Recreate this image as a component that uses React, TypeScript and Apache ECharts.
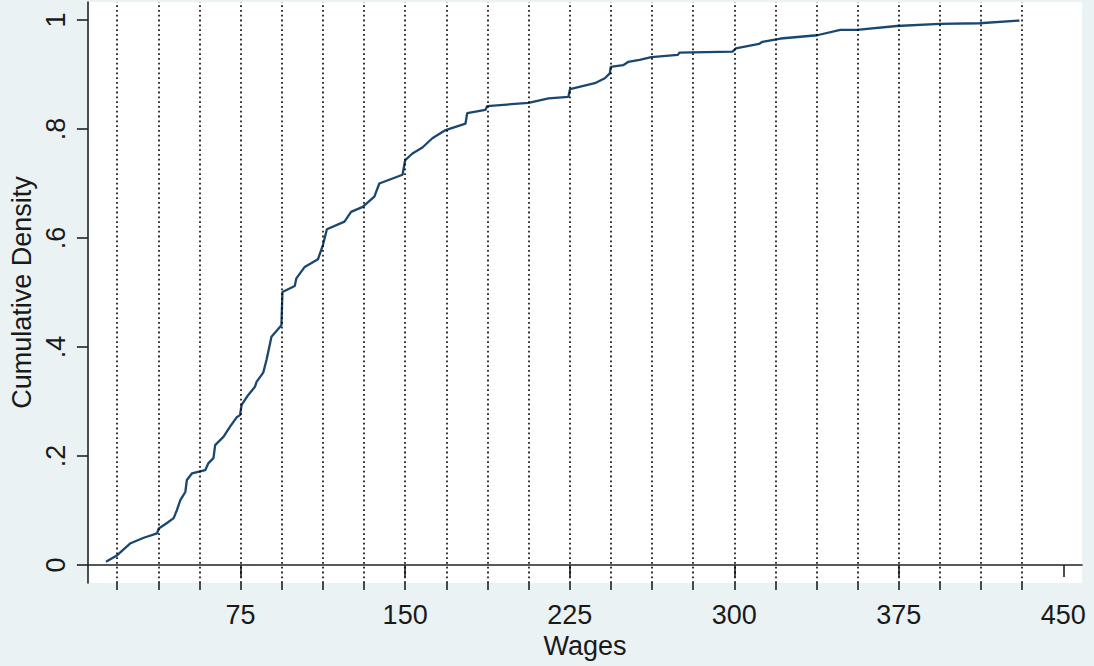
import React, { useEffect, useRef } from "react";
import * as echarts from "echarts";

const wages = [
  13.65, 18.78, 24.85, 30.88, 36.92, 37.69, 41.45, 44.49, 45.99, 47.53, 49.8, 50.52, 52.79, 58.87,
  60.36, 62.63, 63.4, 67.17, 70.2, 73.2, 74.74, 75.46, 78.5, 81.54, 82.27, 85.31, 86.8, 89.07,
  93.61, 94.06, 99.68, 100.41, 104.22, 110.25, 112.52, 114.33, 122.36, 125.35, 130.66, 135.96,
  138.23, 148.8, 150.02, 153.33, 157.87, 162.4, 168.44, 177.51, 178.28, 186.58, 187.35, 206.26,
  215.33, 224.4, 225.13, 236.46, 241.0, 243.27, 243.72, 249.34, 251.61, 256.87, 262.18, 274.29,
  275.01, 299.23, 300.73, 311.29, 312.83, 321.13, 337.78, 348.35, 355.92, 374.06, 393.7, 411.84,
  429.98,
];
const cdf = [
  0.006, 0.018, 0.04, 0.05, 0.058, 0.067, 0.077, 0.086, 0.101, 0.119, 0.134, 0.156, 0.168, 0.174,
  0.187, 0.196, 0.22, 0.235, 0.254, 0.271, 0.275, 0.294, 0.312, 0.327, 0.336, 0.353, 0.376, 0.419,
  0.44, 0.501, 0.512, 0.526, 0.547, 0.561, 0.587, 0.616, 0.63, 0.648, 0.657, 0.676, 0.7, 0.716,
  0.743, 0.755, 0.766, 0.783, 0.798, 0.81, 0.829, 0.835, 0.842, 0.848, 0.856, 0.859, 0.873, 0.884,
  0.893, 0.902, 0.914, 0.917, 0.923, 0.927, 0.932, 0.936, 0.94, 0.942, 0.948, 0.956, 0.96, 0.966,
  0.972, 0.982, 0.982, 0.989, 0.993, 0.994, 0.999,
];
const xTickValues = [75, 150, 225, 300, 375, 450];
const xMinorTicks = [
  18.75, 37.5, 56.25, 75, 93.75, 112.5, 131.25, 150, 168.75, 187.5, 206.25, 225, 243.75, 262.5,
  281.25, 300, 318.75, 337.5, 356.25, 375, 393.75, 412.5, 431.25,
];
const yTickValues = [0, 0.2, 0.4, 0.6, 0.8, 1];
const yTickLabels = ["0", ".2", ".4", ".6", ".8", "1"];

const FONT = "Liberation Sans, Arial, sans-serif";
const TEXT = "#1a1a1a";

export default function App() {
  const ref = useRef<HTMLDivElement>(null);
  useEffect(() => {
    if (!ref.current) return;
    const chart = echarts.init(ref.current, undefined, { renderer: "svg" });
    const labelFor = (v: number) => {
      const i = yTickValues.findIndex((t) => Math.abs(t - v) < 1e-6);
      return i >= 0 ? yTickLabels[i] : "";
    };
    chart.setOption({
      animation: false,
      backgroundColor: "#EAF2F3",
      grid: {
        left: 84,
        right: 12,
        top: 2,
        bottom: 83,
        show: true,
        backgroundColor: "#ffffff",
        borderWidth: 0,
      },
      xAxis: [
        {
          type: "value",
          min: 5.4,
          max: 458.5,
          position: "bottom",
          name: "Wages",
          nameLocation: "middle",
          nameGap: 44,
          nameTextStyle: { fontFamily: FONT, fontSize: 27, color: TEXT },
          axisLine: { show: true, lineStyle: { color: "#222", width: 1.6 } },
          axisTick: { show: true, length: 12, customValues: xTickValues, lineStyle: { color: "#222", width: 1.6 } },
          axisLabel: {
            show: true,
            customValues: xTickValues,
            margin: 18,
            fontFamily: FONT,
            fontSize: 27,
            color: TEXT,
            formatter: (v: number) => String(Math.round(v)),
          },
          splitLine: { show: false },
        },
        {
          type: "value",
          min: 5.4,
          max: 458.5,
          position: "bottom",
          offset: 0,
          axisLine: { show: false },
          axisTick: { show: true, length: 7, customValues: xMinorTicks, lineStyle: { color: "#222", width: 1.6 } },
          axisLabel: { show: false },
          splitLine: { show: false },
        },
      ],
      yAxis: {
        type: "value",
        min: -0.033,
        max: 1.033,
        name: "Cumulative Density",
        nameLocation: "middle",
        nameGap: 46,
        nameRotate: 90,
        nameTextStyle: { fontFamily: FONT, fontSize: 27, color: TEXT },
        axisLine: { show: true, lineStyle: { color: "#222", width: 1.6 } },
        axisTick: { show: true, length: 11, customValues: yTickValues, lineStyle: { color: "#222", width: 1.6 } },
        axisLabel: {
          show: true,
          customValues: yTickValues,
          rotate: 90,
          margin: 18,
          fontFamily: FONT,
          fontSize: 27,
          color: TEXT,
          formatter: labelFor,
        },
        splitLine: { show: false },
      },
      series: [
        {
          type: "line",
          xAxisIndex: 0,
          data: [],
          silent: true,
          z: 1,
          markLine: {
            silent: true,
            symbol: ["none", "none"],
            label: { show: false },
            lineStyle: { color: "#000", type: [1.8, 3], width: 1.6 },
            data: xMinorTicks.map((v) => ({ xAxis: v })),
          },
        },
        {
          type: "line",
          xAxisIndex: 0,
          data: wages.map((w, i) => [w, cdf[i]]),
          showSymbol: false,
          symbol: "none",
          z: 3,
          lineStyle: { color: "#1a476f", width: 2.3 },
        },
      ],
    });
    return () => chart.dispose();
  }, []);
  return <div ref={ref} style={{ position: "fixed", left: 0, top: 0, width: 1094, height: 666 }} />;
}
